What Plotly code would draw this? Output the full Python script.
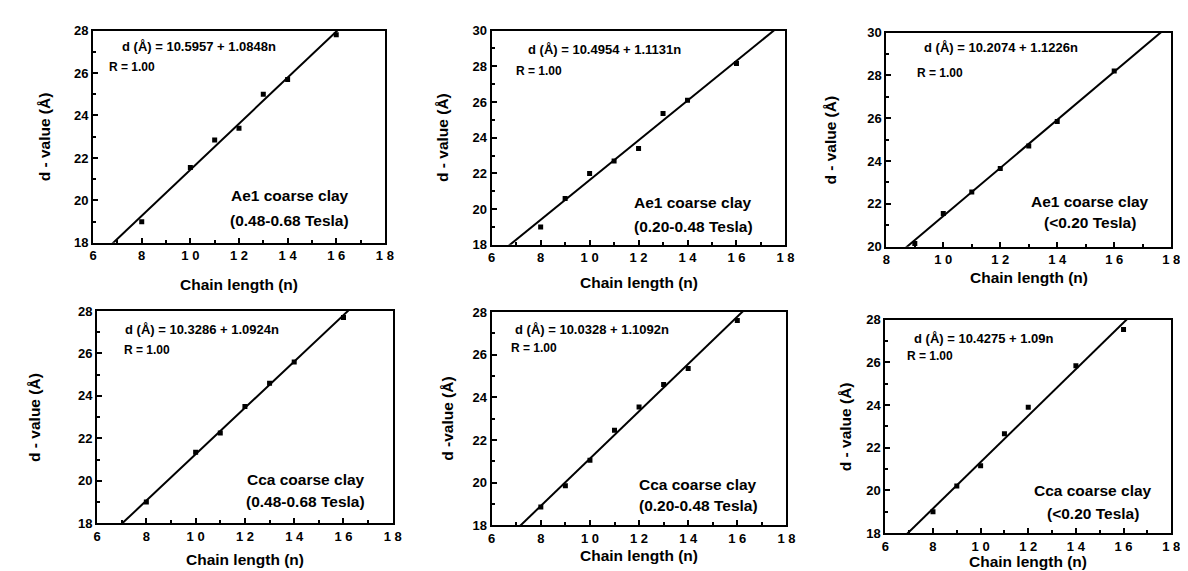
import plotly.graph_objects as go

# ---- data ----
n_ae1_hi = [8, 10, 11, 12, 13, 14, 16]
d_ae1_hi = [19.0, 21.55, 22.85, 23.4, 25.0, 25.7, 27.8]

n_ae1_mid = [8, 9, 10, 11, 12, 13, 14, 16]
d_ae1_mid = [19.0, 20.6, 22.0, 22.7, 23.4, 25.35, 26.1, 28.15]

n_ae1_lo = [9, 10, 11, 12, 13, 14, 16]
d_ae1_lo = [20.15, 21.55, 22.55, 23.65, 24.7, 25.85, 28.2]

n_cca_hi = [8, 10, 11, 12, 13, 14, 16]
d_cca_hi = [19.0, 21.35, 22.25, 23.5, 24.6, 25.6, 27.7]

n_cca_mid = [8, 9, 10, 11, 12, 13, 14, 16]
d_cca_mid = [18.85, 19.85, 21.05, 22.45, 23.55, 24.6, 25.35, 27.6]

n_cca_lo = [8, 9, 10, 11, 12, 14, 16]
d_cca_lo = [19.0, 20.2, 21.15, 22.65, 23.9, 25.85, 27.55]

intercepts = [10.5957, 10.4954, 10.2074, 10.3286, 10.0328, 10.4275]
slopes = [1.0848, 1.1131, 1.1226, 1.0924, 1.1092, 1.09]
equations = ["d (Å) = 10.5957 + 1.0848n", "d (Å) = 10.4954 + 1.1131n",
             "d (Å) = 10.2074 + 1.1226n", "d (Å) = 10.3286 + 1.0924n",
             "d (Å) = 10.0328 + 1.1092n", "d (Å) = 10.4275 + 1.09n"]
r_text = ["R = 1.00"] * 6
sample_names = ["Ae1 coarse clay", "Ae1 coarse clay", "Ae1 coarse clay",
                "Cca coarse clay", "Cca coarse clay", "Cca coarse clay"]
field_ranges = ["(0.48-0.68 Tesla)", "(0.20-0.48 Tesla)", "(<0.20 Tesla)",
                "(0.48-0.68 Tesla)", "(0.20-0.48 Tesla)", "(<0.20 Tesla)"]
y_titles = ["d - value (Å)", "d - value (Å)", "d - value (Å)",
            "d - value (Å)", "d -value (Å)", "d - value (Å)"]
x_title = "Chain length (n)"
x_ranges = [[6, 18], [6, 18], [8, 18], [6, 18], [6, 18], [6, 18]]
y_ranges = [[18, 28], [18, 30], [20, 30], [18, 28], [18, 28], [18, 28]]

series_n = [n_ae1_hi, n_ae1_mid, n_ae1_lo, n_cca_hi, n_cca_mid, n_cca_lo]
series_d = [d_ae1_hi, d_ae1_mid, d_ae1_lo, d_cca_hi, d_cca_mid, d_cca_lo]

# ---- layout geometry (pixels) ----
W, H = 1188, 571
boxes = [  # left, right, top, bottom
    (82, 377, 16, 234),
    (485, 782, 16, 236),
    (884, 1172, 18, 238),
    (86, 385, 304, 522),
    (485, 783, 305, 524),
    (883, 1172, 313, 532),
]
eq_pos = [(110, 32), (521, 35), (921, 33), (113, 323), (508, 323), (911, 332)]
r_pos = [(97, 53), (509, 58), (914, 60), (112, 344), (504, 342), (904, 350)]
lab_pos = [(281, 185, 211), (689, 193, 217), (1090, 192, 213),
           (297, 477, 500), (694, 482, 504), (1093, 488, 512)]
xt_y = [277, 275, 270, 559, 555, 561]
yt_x = [33, 435, 828, 22, 440, 843]

FONT = "Liberation Sans"

fig = go.Figure()
annotations = []

def px(x):
    return x / W

def py(y):
    return 1 - y / H

for i in range(6):
    k = "" if i == 0 else str(i + 1)
    xa, ya = "x" + k, "y" + k
    L, R, T, B = boxes[i]
    x0, x1 = x_ranges[i]
    lx = [x0, x1]
    ly = [intercepts[i] + slopes[i] * v for v in lx]
    fig.add_trace(go.Scatter(x=lx, y=ly, mode="lines", xaxis=xa, yaxis=ya,
                             line=dict(color="black", width=2), showlegend=False,
                             hoverinfo="skip"))
    fig.add_trace(go.Scatter(x=series_n[i], y=series_d[i], mode="markers",
                             xaxis=xa, yaxis=ya, showlegend=False,
                             marker=dict(symbol="square", size=5, color="black")))
    tickvals = list(range(x0, x1 + 1, 2))
    ticktext = [" ".join(str(v)) for v in tickvals]
    axis_common = dict(showgrid=False, zeroline=False, showline=True,
                       linecolor="black", linewidth=2, mirror=True,
                       ticks="inside", ticklen=5, tickwidth=1.5, tickcolor="black",
                       ticklabeloverflow="allow",
                       tickfont=dict(family=FONT, size=13, color="black", weight="bold"))
    fig.layout["xaxis" + k] = dict(
        domain=[px(L), px(R)], range=[x0, x1], anchor=ya,
        tickvals=tickvals, ticktext=ticktext,
        minor=dict(dtick=1, ticks="inside", ticklen=3, tickcolor="black", tickwidth=1.5),
        **axis_common)
    y0, y1 = y_ranges[i]
    fig.layout["yaxis" + k] = dict(
        domain=[py(B), py(T)], range=[y0, y1], anchor=xa, dtick=2, tick0=0,
        minor=dict(dtick=1, ticks="inside", ticklen=3, tickcolor="black", tickwidth=1.5),
        **axis_common)

    def add(text, x, y, size, xanchor="left", angle=0):
        annotations.append(dict(text=text, x=px(x), y=py(y), xref="paper", yref="paper",
                                xanchor=xanchor, yanchor="middle", showarrow=False,
                                textangle=angle, borderpad=0,
                                font=dict(family=FONT, size=size, color="black", weight="bold")))

    add(equations[i], eq_pos[i][0], eq_pos[i][1], 13)
    add(r_text[i], r_pos[i][0], r_pos[i][1], 12)
    add(sample_names[i], lab_pos[i][0], lab_pos[i][1], 15.5, "center")
    add(field_ranges[i], lab_pos[i][0], lab_pos[i][2], 15.5, "center")
    add(x_title, (L + R) / 2, xt_y[i], 15.5, "center")
    add(y_titles[i], yt_x[i], (T + B) / 2, 15.5, "center", -90)

fig.update_layout(width=W, height=H, margin=dict(l=0, r=0, t=0, b=0),
                  paper_bgcolor="white", plot_bgcolor="white",
                  annotations=annotations, showlegend=False)

fig.write_html("out.html")
